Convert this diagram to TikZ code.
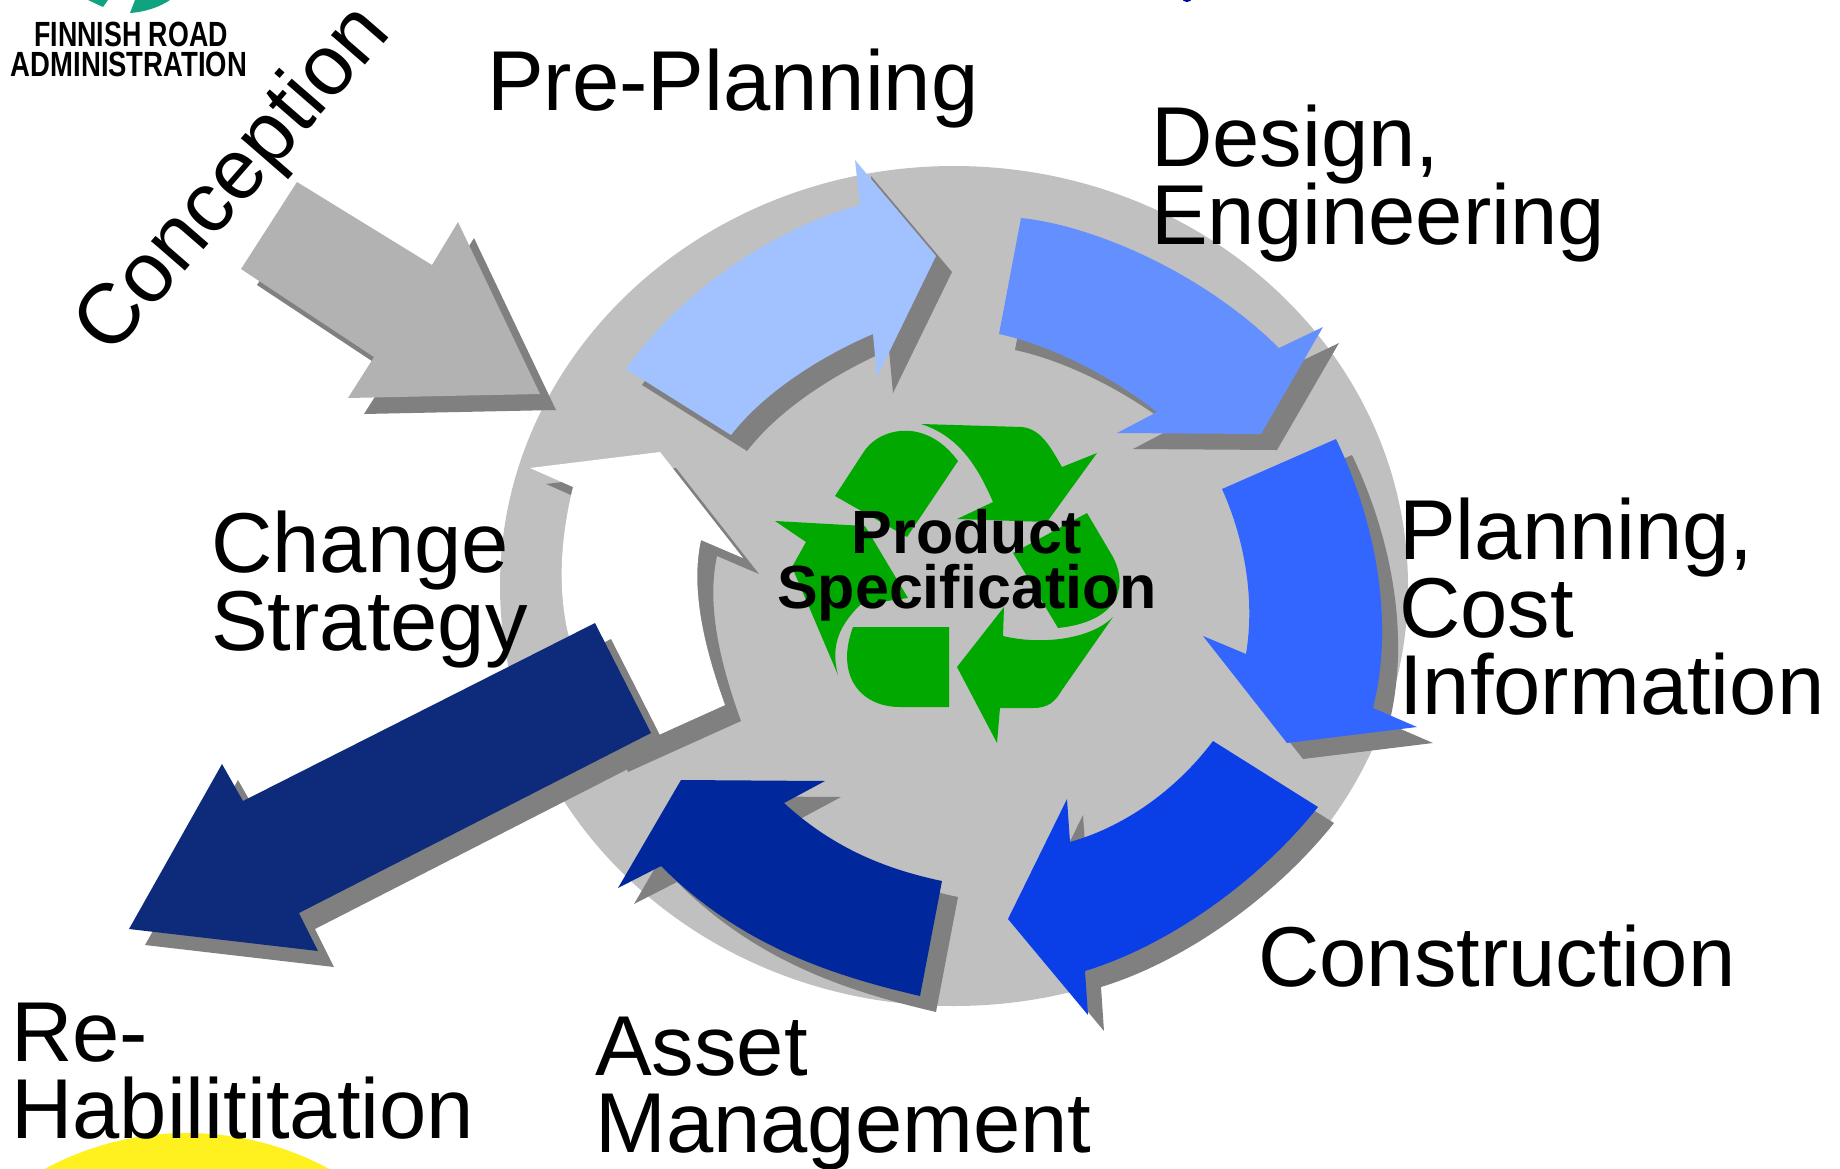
\documentclass[tikz,border=0pt]{standalone}
\usepackage{fontspec}
\setmainfont{Liberation Sans}
\definecolor{discgray}{HTML}{C0C0C0}
\definecolor{shadowgray}{HTML}{808080}
\definecolor{conceptgray}{HTML}{B2B2B2}
\definecolor{preblue}{HTML}{A2C1FF}
\definecolor{designblue}{HTML}{6490FF}
\definecolor{planblue}{HTML}{3366FF}
\definecolor{buildblue}{HTML}{0A3FE8}
\definecolor{assetblue}{HTML}{00289C}
\definecolor{rehabblue}{HTML}{0E2A7B}
\definecolor{recyclegreen}{HTML}{00A800}
\definecolor{logoteal}{HTML}{0FA37F}
\definecolor{sunyellow}{HTML}{FFF020}
\tikzset{
  phase/.style={anchor=base west,inner sep=0pt,align=left,font=\fontsize{85}{76.5}\selectfont},
  spec/.style={anchor=base,inner sep=0pt,align=center,font=\fontsize{61}{55}\selectfont\bfseries},
  logotext/.style={anchor=base,inner sep=0pt,transform shape,xscale=.785,font=\fontsize{35}{35}\selectfont\bfseries},
}
\newcommand{\blockarrow}[2]{%
  \fill[shadowgray,shift={(16,16)}] #2;
  \fill[#1] #2;
}
\begin{document}
\begin{tikzpicture}[x=1pt,y=-1pt]
\useasboundingbox (0,0) rectangle (1840,1168);
\clip (0,0) rectangle (1840,1168);

% disc and yellow sun
\fill[discgray] (954,586) ellipse [x radius=454,y radius=420];
\fill[sunyellow] (187,1432) circle (299);
\fill[blue!70!black] (1187,-2) ellipse [x radius=5,y radius=4];

% logo
\fill[logoteal] (88,0) -- (103,7) -- (108,0) -- cycle;
\fill[logoteal] (135,0) -- (130,13) .. controls (145,12) and (160,7) .. (170,0) -- cycle;
\node[logotext,xscale=.975] (roadname) at (131,46) {FINNISH ROAD};
\node[logotext] (adminname) at (129,76) {ADMINISTRATION};

% arrows
\blockarrow{conceptgray}{(297,182) -- (241,269) -- (374,357) -- (348,398) -- (540,394) -- (458,222) -- (432,265) -- cycle}
\blockarrow{preblue}{(626,369) .. controls (682,290) and (775,228) .. (860,205) -- (855,160) -- (936,256) -- (877,377) -- (873,334) .. controls (835,350) and (770,385) .. (731,435) -- cycle}
\blockarrow{designblue}{(1021,218) .. controls (1090,225) and (1200,270) .. (1279,348) -- (1323,327) -- (1261,434) -- (1117,433) -- (1157,412) .. controls (1110,375) and (1050,345) .. (999,334) -- cycle}
\blockarrow{planblue}{(1336,439) .. controls (1375,520) and (1395,620) .. (1373,708) -- (1417,727) -- (1287,743) -- (1203,636) -- (1246,654) .. controls (1255,600) and (1245,540) .. (1222,489) -- cycle}
\blockarrow{buildblue}{(1318,807) .. controls (1260,880) and (1170,945) .. (1085,971) -- (1088,1015) -- (1008,919) -- (1067,799) -- (1070,842) .. controls (1130,825) and (1180,785) .. (1213,741) -- cycle}
\blockarrow{assetblue}{(942,881) .. controls (880,868) and (830,845) .. (784,803) -- (825,781) -- (681,780) -- (618,888) -- (661,866) .. controls (740,945) and (830,975) .. (920,996) -- cycle}
\blockarrow{white}{(725,705) .. controls (705,650) and (690,590) .. (701,540) -- (743,558) -- (660,452) -- (530,468) -- (573,487) .. controls (560,540) and (558,590) .. (568,633) -- (612,756) -- cycle}
\blockarrow{rehabblue}{(595,623) -- (243,801) -- (222,764) -- (129,929) -- (318,951) -- (299,913) -- (651,733) -- cycle}

% recycling sign
\fill[recyclegreen] (835,496) -- (863,453) .. controls (878,428) and (925,416) .. (958,461) -- (907,537) -- cycle;
\fill[recyclegreen] (921,424) -- (1022,427) .. controls (1042,429) and (1052,450) .. (1062,467) -- (1097,453) -- (1047,522) -- (957,519) -- (993,502) .. controls (975,460) and (955,435) .. (921,424) -- cycle;
\fill[recyclegreen] (1087,513) -- (1113,557) .. controls (1130,590) and (1115,622) .. (1058,628) -- (1013,553) -- cycle;
\fill[recyclegreen] (1113,617) .. controls (1090,640) and (1040,645) .. (1003,636) -- (1004,607) -- (957,667) -- (997,743) -- (1000,708) -- (1033,708) .. controls (1048,708) and (1055,702) .. (1062,690) -- cycle;
\fill[recyclegreen] (853,627) -- (949,627) -- (949,707) -- (900,707) .. controls (860,707) and (835,675) .. (853,627) -- cycle;
\fill[recyclegreen] (775,521) -- (865,526) -- (908,598) -- (860,605) .. controls (840,625) and (830,645) .. (838,675) -- (792,567) -- (806,542) -- cycle;

% labels
\node[spec] (product) at (967,608) {Product\\Specification};
\node[phase,rotate=49] (conception) at (110,358) {Conception};
\node[phase] (preplanning) at (487,110) {Pre-Planning};
\node[phase] (design) at (1151,244) {Design,\\[-3pt]Engineering};
\node[phase] (planning) at (1399,714) {Planning,\\Cost\\Information};
\node[phase] (construction) at (1258,986) {Construction};
\node[phase] (asset) at (595,1152) {Asset\\Management};
\node[phase] (rehab) at (11,1138) {Re-\\Habilititation};
\node[phase] (change) at (211,650) {Change\\Strategy};
\end{tikzpicture}
\end{document}
